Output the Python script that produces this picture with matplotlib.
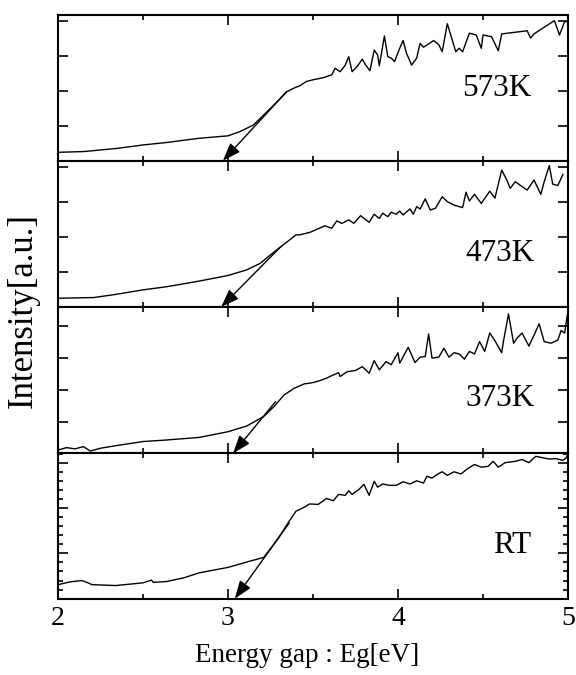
import matplotlib
matplotlib.use("Agg")
import matplotlib.pyplot as plt
from matplotlib.ticker import MultipleLocator, NullFormatter

plt.rcParams['font.family'] = ['Liberation Serif', 'DejaVu Serif']

# ---------------- data ----------------
labels = ["573K", "473K", "373K", "RT"]

x_573 = [2.00, 2.15, 2.345, 2.50, 2.64, 2.83, 3.00, 3.07, 3.15, 3.23, 3.29, 3.345, 3.40, 3.42, 3.46,
         3.50, 3.56, 3.61, 3.63, 3.66, 3.69, 3.71, 3.73, 3.76, 3.79, 3.81, 3.835, 3.86, 3.88, 3.89,
         3.92, 3.94, 3.96, 3.98, 4.01, 4.03, 4.05, 4.08, 4.11, 4.13, 4.15, 4.21, 4.24, 4.26, 4.29,
         4.31, 4.34, 4.36, 4.38, 4.42, 4.46, 4.49, 4.50, 4.55, 4.59, 4.61, 4.76, 4.78, 4.80, 4.92,
         4.95, 4.98, 5.00]
y_573 = [0.24, 0.26, 0.35, 0.45, 0.52, 0.64, 0.71, 0.83, 1.02, 1.40, 1.69, 1.97, 2.10, 2.13, 2.26,
         2.31, 2.37, 2.45, 2.64, 2.54, 2.73, 2.97, 2.54, 2.69, 2.90, 2.73, 2.57, 3.16, 3.02, 2.71,
         3.56, 2.97, 2.93, 2.83, 3.21, 3.43, 3.07, 2.73, 2.93, 3.35, 3.24, 3.43, 3.31, 3.11, 3.91,
         3.59, 3.11, 3.21, 3.11, 3.64, 3.59, 3.21, 3.59, 3.54, 3.14, 3.62, 3.71, 3.50, 3.62, 4.00,
         3.59, 3.97, 3.97]

x_473 = [2.00, 2.21, 2.34, 2.50, 2.64, 2.83, 3.00, 3.11, 3.19, 3.25, 3.31, 3.345, 3.40, 3.42, 3.48,
         3.50, 3.57, 3.61, 3.64, 3.67, 3.71, 3.74, 3.78, 3.83, 3.86, 3.89, 3.91, 3.94, 3.96, 3.99,
         4.01, 4.03, 4.07, 4.09, 4.11, 4.13, 4.16, 4.19, 4.22, 4.26, 4.29, 4.33, 4.38, 4.40, 4.42,
         4.45, 4.49, 4.54, 4.57, 4.61, 4.64, 4.66, 4.69, 4.73, 4.76, 4.80, 4.84, 4.86, 4.89, 4.91,
         4.94, 4.97]
y_473 = [0.25, 0.27, 0.36, 0.49, 0.58, 0.74, 0.90, 1.06, 1.25, 1.49, 1.72, 1.85, 2.06, 2.06, 2.13,
         2.17, 2.32, 2.25, 2.46, 2.39, 2.49, 2.39, 2.61, 2.42, 2.65, 2.53, 2.68, 2.58, 2.71, 2.65,
         2.74, 2.63, 2.80, 2.65, 2.87, 2.80, 3.09, 2.77, 2.82, 3.15, 3.01, 2.91, 2.84, 3.28, 3.03,
         3.22, 2.96, 3.31, 3.11, 3.91, 3.63, 3.39, 3.58, 3.44, 3.34, 3.63, 3.22, 3.58, 4.04, 3.51,
         3.47, 3.79]

x_373 = [2.00, 2.05, 2.10, 2.15, 2.19, 2.25, 2.34, 2.50, 2.64, 2.83, 3.00, 3.11, 3.21, 3.27, 3.33,
         3.39, 3.45, 3.48, 3.50, 3.54, 3.58, 3.62, 3.65, 3.66, 3.70, 3.75, 3.79, 3.81, 3.83, 3.86,
         3.89, 3.93, 3.96, 4.00, 4.01, 4.06, 4.10, 4.13, 4.16, 4.18, 4.20, 4.24, 4.27, 4.30, 4.33,
         4.36, 4.39, 4.42, 4.45, 4.48, 4.51, 4.54, 4.57, 4.61, 4.62, 4.65, 4.68, 4.70, 4.73, 4.77,
         4.81, 4.83, 4.86, 4.90, 4.94, 4.96, 4.98, 4.99, 5.00]
y_373 = [0.10, 0.18, 0.14, 0.21, 0.07, 0.16, 0.24, 0.37, 0.42, 0.50, 0.68, 0.86, 1.16, 1.47, 1.84,
         2.05, 2.19, 2.21, 2.23, 2.29, 2.37, 2.47, 2.54, 2.42, 2.57, 2.61, 2.73, 2.63, 2.52, 2.92,
         2.63, 2.89, 2.79, 3.17, 2.84, 3.34, 2.86, 3.03, 3.05, 3.76, 3.00, 3.03, 3.31, 3.03, 3.17,
         3.13, 2.97, 3.21, 3.13, 3.52, 3.21, 3.79, 3.55, 3.17, 3.52, 4.39, 3.47, 3.63, 3.79, 3.38,
         3.84, 4.08, 3.52, 3.47, 3.57, 3.87, 3.79, 4.15, 4.47]

x_rt = [2.00, 2.07, 2.14, 2.17, 2.20, 2.34, 2.50, 2.55, 2.56, 2.64, 2.74, 2.83, 3.00, 3.13, 3.21,
        3.29, 3.36, 3.40, 3.45, 3.48, 3.53, 3.58, 3.62, 3.65, 3.69, 3.71, 3.73, 3.77, 3.80, 3.83,
        3.86, 3.88, 3.91, 3.95, 3.99, 4.03, 4.07, 4.11, 4.15, 4.17, 4.20, 4.23, 4.26, 4.29, 4.33,
        4.37, 4.41, 4.45, 4.49, 4.53, 4.56, 4.59, 4.63, 4.69, 4.73, 4.77, 4.81, 4.85, 4.89, 4.93,
        4.97, 4.99, 5.00]
y_rt = [0.31, 0.37, 0.40, 0.36, 0.31, 0.29, 0.35, 0.41, 0.36, 0.38, 0.46, 0.57, 0.69, 0.83, 0.91,
        1.30, 1.71, 1.93, 2.02, 2.09, 2.08, 2.21, 2.16, 2.30, 2.28, 2.38, 2.30, 2.41, 2.52, 2.28,
        2.59, 2.46, 2.53, 2.50, 2.50, 2.58, 2.53, 2.60, 2.55, 2.70, 2.66, 2.74, 2.80, 2.72, 2.80,
        2.75, 2.87, 2.96, 2.90, 2.92, 3.03, 2.90, 3.00, 3.03, 3.07, 3.00, 3.14, 3.11, 3.08, 3.09,
        3.05, 3.11, 3.22]

xs = [x_573, x_473, x_373, x_rt]
ys = [y_573, y_473, y_373, y_rt]

# tangent arrows: (start x, start y) -> (tip x, tip y)
arrow_start = [(3.345, 1.97), (3.31, 1.72), (3.28, 1.63), (3.36, 1.67)]
arrow_tip = [(2.97, 0.0), (2.96, 0.0), (3.03, 0.0), (3.04, 0.0)]

label_pos = [(4.58, 2.05), (4.60, 1.53), (4.60, 1.72), (4.67, 1.18)]
y_top = [4.16, 4.18, 4.62, 3.22]

# ---------------- layout ----------------
W, H = 576, 675
fig = plt.figure(figsize=(W / 100, H / 100), dpi=100)
left_px, right_px = 58, 568
borders = [(15, 160.7), (160.7, 307), (306.7, 453.3), (452.7, 598.7)]

axes = []
for i, (tp, bp) in enumerate(borders):
    ax = fig.add_axes([left_px / W, 1 - bp / H, (right_px - left_px) / W, (bp - tp) / H])
    axes.append(ax)
    ax.plot(xs[i], ys[i], color='black', lw=1.0)
    ax.annotate('', xy=arrow_tip[i], xytext=arrow_start[i],
                arrowprops=dict(arrowstyle='-|>,head_length=1.1,head_width=0.4',
                                color='black', lw=1.0, shrinkA=0, shrinkB=0),
                annotation_clip=False)
    ax.text(label_pos[i][0], label_pos[i][1], labels[i], fontsize=22.5,
            ha='center', va='center')
    ax.set_xlim(2, 5)
    ax.set_ylim(0, y_top[i])
    ax.xaxis.set_major_locator(MultipleLocator(1))
    ax.xaxis.set_minor_locator(MultipleLocator(0.5))
    ax.yaxis.set_major_locator(MultipleLocator(1))
    if i == 3:
        ax.yaxis.set_minor_locator(MultipleLocator(0.2))
    else:
        ax.yaxis.set_minor_locator(plt.NullLocator())
    ax.tick_params(which='both', direction='in', top=True, right=True,
                   width=1.2, labelsize=20, pad=5)
    ax.tick_params(which='major', length=7.5)
    ax.tick_params(which='minor', length=3.8)
    ax.yaxis.set_major_formatter(NullFormatter())
    if i < 3:
        ax.xaxis.set_major_formatter(NullFormatter())
    for s in ax.spines.values():
        s.set_linewidth(1.5)

axes[3].set_xticks([2, 3, 4, 5])
axes[3].set_xticklabels(['2', '3', '4', '5'])

fig.text(307 / W, 1 - 656 / H, 'Energy gap : Eg[eV]',
         fontsize=19.5, ha='center', va='center')
fig.text(23 / W, 1 - 311 / H, 'Intensity[a.u.]', fontsize=25, rotation=90,
         ha='center', va='center')

fig.savefig('out.png', dpi=100)
